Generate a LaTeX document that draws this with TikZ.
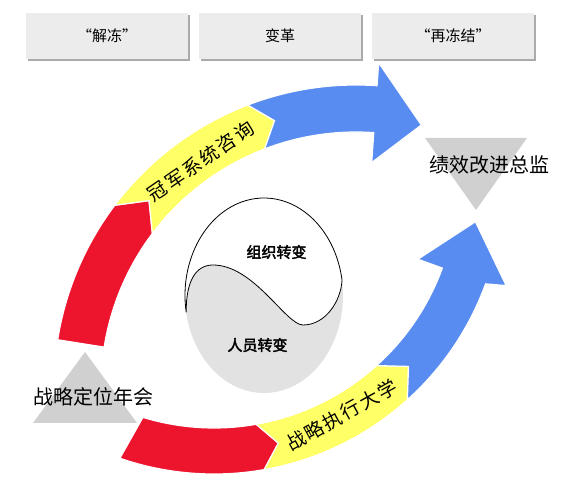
\documentclass[tikz,border=0pt]{standalone}
\usepackage{fontspec}
\usepackage{xcolor}
\definecolor{color1}{RGB}{237, 20, 46}
\definecolor{color2}{RGB}{255, 255, 102}
\definecolor{color3}{RGB}{88, 140, 240}
\definecolor{color4}{RGB}{208, 208, 208}
\definecolor{color5}{RGB}{226, 226, 226}
\definecolor{color6}{RGB}{236, 236, 236}
\definecolor{color7}{RGB}{170, 170, 170}
\newfontfamily\cjk{Noto Sans CJK SC}
\newfontfamily\cjkband[LetterSpace=10]{Noto Sans CJK SC}
\newfontfamily\cjkbold[FakeBold=2.5]{Noto Sans CJK SC}
\usetikzlibrary{shadows}

\begin{document}
\begin{tikzpicture}[x=1pt, y=1pt,
	stagebox/.style = {fill=color6, minimum width=162pt, minimum height=46pt, inner sep=0pt, font=\cjk\fontsize{15}{15}\selectfont, drop shadow={shadow xshift=2pt, shadow yshift=-2pt, fill=color7, opacity=1}},
	segment/.style = {draw=white, line width=1.2pt},
	bandtext/.style = {inner sep=0pt, font=\cjkband\fontsize{19}{19}\selectfont},
	sidetext/.style = {inner sep=0pt, font=\cjk\fontsize{20}{20}\selectfont},
	yintext/.style = {inner sep=0pt, font=\cjkbold\fontsize{15}{15}\selectfont}]
	\useasboundingbox (0,0) rectangle (571,500);
	% stages
	\node[stagebox] (unfreeze) at (107,464) {“解冻”};
	\node[stagebox] (change) at (280,464) {变革};
	\node[stagebox] (refreeze) at (453,464) {“再冻结”};
	% triangles
	\fill[color4] (33,77) -- (137,77) -- (85,148) -- cycle;
	\fill[color4] (425,362) -- (527,362) -- (476,290) -- cycle;
	\node[sidetext] (annual) at (94,103) {战略定位年会};
	\node[sidetext] (director) at (489,335) {绩效改进总监};
	% upper arrow
	\begin{scope}[shift={(356,113)}]
		\fill[color1, segment] (171:302) arc[start angle=171, end angle=143, radius=302] -- (138:278.5) -- (143:255) arc[start angle=143, end angle=171, radius=255] -- cycle;
		\fill[color2, segment] (143:302) arc[start angle=143, end angle=111, radius=302] -- (107:278.5) -- (111:255) arc[start angle=111, end angle=143, radius=255] -- (138:278.5) -- cycle;
		\fill[color3, segment] (111:302) arc[start angle=111, end angle=86, radius=302] -- (86:325) -- (76:270) -- (86:225) -- (86:255) arc[start angle=86, end angle=111, radius=255] -- (107:278.5) -- cycle;
		\node[bandtext, rotate=34.5] (consult) at (124.5:274) {冠军系统咨询};
	\end{scope}
	% lower arrow
	\begin{scope}[shift={(214,315)}]
		\fill[color1, segment] (251:289) arc[start angle=251, end angle=280, radius=289] -- (284:266) -- (280:243) arc[start angle=280, end angle=253, radius=243] -- cycle;
		\fill[color2, segment] (280:289) arc[start angle=280, end angle=312, radius=289] -- (317:266) -- (312:243) arc[start angle=312, end angle=280, radius=243] -- (284:266) -- cycle;
		\fill[color3, segment] (312:289) arc[start angle=312, end angle=340, radius=289] -- (341:309) -- (352:264) -- (340:217) -- (340:243) arc[start angle=340, end angle=312, radius=243] -- (317:266) -- cycle;
		\node[bandtext, rotate=29] (school) at (299:263) {战略执行大学};
	\end{scope}
	% yin yang
	\begin{scope}[shift={(264,204.5)}]
		\fill[color5] (0,0) ellipse[x radius=79, y radius=97.5];
		\draw[fill=white, line width=0.8pt] (190:79 and 97.5) arc[start angle=190, end angle=9, x radius=79, y radius=97.5]
			.. controls (77,-5) and (62,-29.5) .. (39,-29.5)
			.. controls (22,-29.5) and (-10,30.5) .. (-51,30.5)
			.. controls (-68,30.5) and (-78,15) .. (190:79 and 97.5) -- cycle;
		\node[yintext] (org) at (12.5,43.5) {组织转变};
		\node[yintext] (people) at (-6.5,-49.5) {人员转变};
	\end{scope}
\end{tikzpicture}
\end{document}
